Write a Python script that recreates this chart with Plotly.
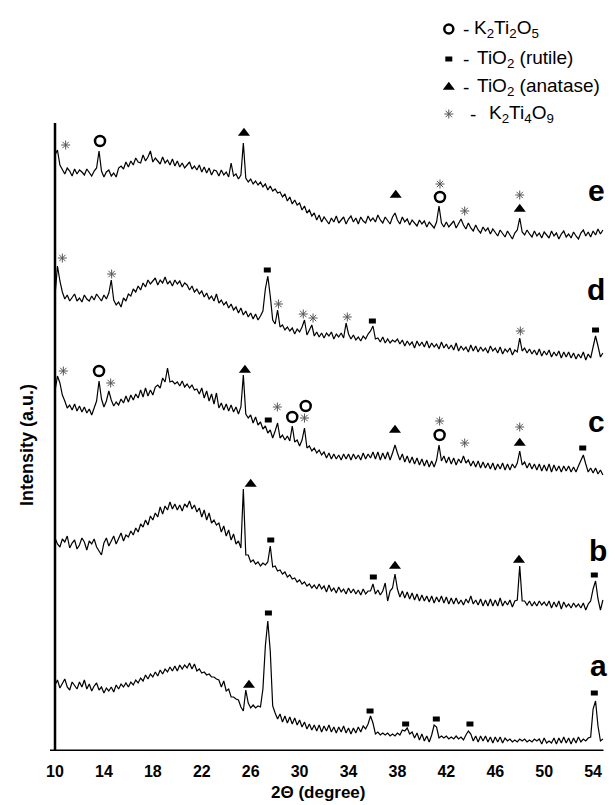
import plotly.graph_objects as go

# 2-theta scan grid (degrees), step 0.2
two_theta = [round(10 + 0.2 * i, 1) for i in range(225)]

# Intensities (a.u., offset-stacked as in the figure)
curve_e = [596, 601, 586, 581, 577, 583, 580, 575, 582, 577,
           581, 579, 576, 582, 578, 575, 580, 583, 600, 580,
           574, 579, 581, 575, 578, 574, 583, 585, 582, 589,
           584, 590, 586, 593, 589, 588, 596, 590, 594, 600,
           589, 593, 590, 587, 594, 588, 591, 586, 592, 585,
           590, 584, 588, 583, 586, 589, 582, 585, 581, 586,
           579, 584, 578, 583, 576, 581, 580, 575, 581, 576,
           579, 574, 588, 575, 577, 572, 576, 608, 573, 569,
           572, 567, 570, 566, 569, 564, 567, 561, 565, 560,
           562, 558, 559, 554, 557, 550, 554, 547, 551, 546,
           548, 541, 545, 538, 541, 535, 538, 531, 536, 529,
           534, 530, 527, 533, 529, 535, 528, 531, 534, 527,
           532, 535, 529, 533, 527, 534, 530, 528, 535, 530,
           533, 529, 536, 531, 528, 534, 530, 527, 534, 538,
           531, 527, 534, 529, 532, 526, 531, 528, 525, 531,
           527, 530, 524, 529, 526, 523, 529, 545, 528, 524,
           529, 524, 527, 530, 523, 528, 532, 526, 522, 528,
           523, 520, 526, 521, 518, 524, 520, 523, 517, 522,
           519, 515, 521, 517, 514, 520, 516, 512, 518, 521,
           533, 519, 516, 521, 517, 514, 520, 515, 518, 513,
           519, 516, 513, 520, 515, 518, 512, 517, 520, 514,
           517, 513, 519, 515, 512, 518, 521, 515, 519, 514,
           520, 516, 522, 517, 521]

curve_d = [455, 485, 470, 459, 452, 456, 450, 454, 457, 450,
           453, 449, 456, 452, 450, 455, 451, 457, 453, 450,
           456, 452, 458, 471, 451, 446, 449, 444, 453, 450,
           457, 455, 462, 459, 465, 461, 468, 464, 471, 467,
           470, 473, 466, 471, 468, 474, 467, 470, 465, 471,
           467, 470, 464, 468, 466, 461, 465, 459, 462, 457,
           460, 454, 458, 452, 455, 450, 457, 448, 451, 446,
           449, 443, 447, 441, 444, 438, 443, 436, 440, 434,
           438, 432, 437, 431, 435, 440, 462, 475, 455, 431,
           427, 441, 424, 426, 421, 424, 420, 423, 417, 422,
           419, 424, 431, 416, 421, 426, 415, 419, 414, 418,
           413, 418, 415, 419, 412, 417, 414, 418, 413, 428,
           417, 412, 416, 411, 414, 410, 415, 412, 417, 420,
           425, 412, 413, 409, 414, 408, 412, 408, 411, 409,
           412, 407, 411, 405, 410, 406, 409, 403, 410, 405,
           409, 404, 410, 403, 408, 404, 407, 402, 409, 403,
           407, 402, 406, 401, 408, 400, 405, 401, 404, 399,
           406, 400, 405, 399, 404, 400, 403, 398, 405, 400,
           403, 398, 404, 397, 402, 399, 403, 396, 401, 399,
           413, 400, 403, 398, 402, 397, 401, 396, 402, 395,
           400, 396, 401, 394, 399, 395, 400, 393, 399, 394,
           399, 393, 398, 392, 397, 393, 399, 391, 397, 393,
           404, 415, 405, 394, 398]

curve_c = [360, 375, 368, 356, 350, 343, 346, 341, 347, 340,
           345, 339, 344, 338, 342, 336, 343, 350, 370, 352,
           344, 350, 360, 351, 345, 349, 346, 352, 348, 355,
           349, 356, 351, 357, 353, 361, 354, 363, 355, 361,
           356, 364, 366, 363, 373, 369, 383, 369, 370, 367,
           369, 365, 370, 364, 367, 363, 366, 361, 362, 357,
           363, 353, 360, 350, 357, 347, 358, 343, 348, 341,
           347, 340, 346, 339, 344, 337, 344, 376, 337, 333,
           336, 328, 334, 326, 329, 322, 325, 318, 321, 313,
           320, 328, 313, 316, 311, 315, 310, 325, 309, 311,
           305, 311, 323, 303, 305, 300, 303, 298, 301, 296,
           299, 293, 298, 292, 297, 292, 296, 291, 297, 292,
           297, 291, 297, 292, 296, 291, 298, 292, 297, 293,
           299, 292, 299, 291, 298, 292, 299, 291, 298, 306,
           298, 291, 297, 289, 295, 288, 294, 287, 293, 286,
           292, 285, 291, 284, 290, 284, 291, 306, 290, 295,
           288, 294, 287, 293, 286, 292, 288, 295, 288, 291,
           285, 290, 284, 290, 283, 289, 283, 288, 282, 288,
           281, 287, 282, 288, 281, 287, 281, 287, 283, 288,
           300, 286, 289, 283, 288, 282, 287, 281, 287, 280,
           286, 280, 287, 279, 286, 280, 285, 279, 285, 280,
           285, 279, 284, 279, 285, 290, 296, 287, 279, 283,
           278, 283, 277, 281, 276]

curve_b = [213, 207, 204, 212, 209, 215, 203, 208, 211, 202,
           206, 213, 209, 201, 210, 207, 212, 204, 200, 196,
           208, 213, 205, 211, 215, 207, 213, 218, 210, 216,
           214, 220, 216, 223, 219, 227, 224, 231, 226, 235,
           231, 238, 234, 244, 237, 245, 241, 249, 242, 247,
           241, 246, 240, 247, 244, 250, 242, 246, 239, 243,
           234, 241, 231, 238, 228, 231, 226, 228, 219, 225,
           215, 221, 211, 217, 207, 210, 203, 262, 196, 196,
           189, 191, 187, 189, 185, 188, 186, 189, 205, 184,
           185, 180, 181, 177, 179, 174, 176, 172, 173, 169,
           171, 167, 169, 165, 167, 163, 166, 162, 167, 162,
           165, 159, 166, 160, 163, 158, 164, 159, 162, 157,
           163, 158, 162, 157, 161, 156, 162, 157, 160, 160,
           167, 157, 161, 156, 160, 168, 150, 160, 163, 177,
           162, 154, 160, 153, 159, 152, 158, 151, 157, 150,
           156, 150, 155, 149, 155, 148, 154, 149, 155, 148,
           154, 147, 153, 147, 153, 147, 151, 146, 152, 148,
           155, 147, 151, 146, 152, 145, 151, 145, 152, 145,
           151, 145, 153, 145, 150, 146, 151, 144, 150, 151,
           185, 150, 150, 146, 150, 145, 149, 145, 150, 146,
           149, 145, 150, 143, 149, 144, 150, 142, 149, 144,
           147, 143, 148, 144, 147, 143, 148, 141, 147, 150,
           162, 170, 152, 141, 151]

curve_a = [66, 71, 63, 68, 72, 64, 61, 69, 66, 62,
           69, 64, 71, 62, 67, 60, 65, 68, 61, 64,
           58, 63, 60, 64, 59, 66, 62, 67, 64, 68,
           64, 69, 66, 71, 68, 73, 70, 76, 72, 77,
           74, 79, 75, 81, 77, 82, 79, 84, 80, 85,
           80, 86, 82, 86, 83, 88, 82, 87, 80, 82,
           78, 79, 76, 77, 74, 74, 72, 71, 64, 70,
           60, 62, 54, 54, 52, 51, 44, 40, 61, 48,
           43, 46, 43, 45, 44, 62, 105, 130, 100, 45,
           38, 32, 37, 29, 35, 28, 34, 27, 33, 26,
           31, 24, 29, 22, 27, 21, 26, 20, 26, 19,
           25, 20, 26, 19, 24, 18, 24, 19, 25, 18,
           23, 17, 23, 18, 24, 19, 25, 22, 27, 35,
           28, 17, 19, 16, 18, 16, 18, 15, 17, 15,
           18, 16, 21, 20, 23, 17, 19, 13, 18, 11,
           17, 10, 15, 9, 16, 26, 24, 13, 15, 13,
           15, 12, 14, 12, 15, 12, 14, 11, 16, 20,
           17, 10, 15, 9, 15, 10, 15, 9, 14, 8,
           14, 9, 14, 8, 13, 10, 12, 9, 11, 9,
           12, 10, 12, 9, 11, 9, 12, 10, 12, 7,
           13, 8, 10, 8, 13, 7, 13, 8, 14, 8,
           13, 7, 13, 8, 14, 9, 12, 10, 13, 14,
           42, 50, 25, 10, 12]

curves = [("a", curve_a), ("b", curve_b), ("c", curve_c), ("d", curve_d), ("e", curve_e)]

# Phase markers (2-theta, label height)
k2ti2o5_x = [13.68, 41.48, 13.6, 29.4, 30.5, 41.45]
k2ti2o5_y = [610, 554, 380, 334, 345, 316]
rutile_x = [27.36, 35.95, 54.2, 27.44, 53.15, 27.64, 36.03, 54.1, 27.45, 35.76, 38.67, 41.18, 43.93, 54.1]
rutile_y = [481, 430, 421, 331, 303, 211, 174, 176, 138, 40, 27, 32, 27, 58]
anatase_x = [25.45, 37.86, 48.0, 25.53, 37.8, 48.0, 26.0, 37.8, 47.94, 25.86]
anatase_y = [618, 556, 542, 381, 321, 308, 267, 185, 191, 66]
k2ti4o9_x = [10.87, 41.48, 43.5, 48.0, 10.6, 14.63, 28.27, 30.3, 31.1, 33.9, 48.05,
             10.68, 14.55, 28.18, 30.4, 41.45, 43.5, 48.0]
k2ti4o9_y = [606, 567, 540, 556, 493, 477, 447, 437, 433, 434, 420,
             380, 368, 344, 333, 330, 308, 324]

sample_labels = ["e", "d", "c", "b", "a"]
sample_label_x = [54.3, 54.25, 54.3, 54.4, 54.45]
sample_label_y = [561, 462, 330, 201, 86]

x_ticks = [10, 14, 18, 22, 26, 30, 34, 38, 42, 46, 50, 54]

legend_text = ["K<sub>2</sub>Ti<sub>2</sub>O<sub>5</sub>",
               "TiO<sub>2</sub> (rutile)",
               "TiO<sub>2</sub> (anatase)",
               "K<sub>2</sub>Ti<sub>4</sub>O<sub>9</sub>"]

FONT = "Liberation Sans, Arial, sans-serif"
Y_TOP = 743       # full figure height above the x axis, in a.u. units
AXIS_TOP = 628    # top of the drawn intensity axis

fig = go.Figure()
for name, vals in curves:
    fig.add_trace(go.Scatter(x=two_theta, y=vals, mode="lines", name=name,
                             line=dict(color="black", width=1.2), showlegend=False,
                             hoverinfo="skip"))

def add_markers(xs, ys, symbol, size, color, lw):
    fig.add_trace(go.Scatter(x=xs, y=ys, mode="markers", showlegend=False,
                             cliponaxis=False, hoverinfo="skip",
                             marker=dict(symbol=symbol, size=size, color=color,
                                         line=dict(color=color, width=lw))))

add_markers(k2ti2o5_x, k2ti2o5_y, "circle-open", 10, "black", 2.5)
add_markers(rutile_x, rutile_y, "line-ew-open", 5, "black", 5)
add_markers(anatase_x, anatase_y, "triangle-up", 10.5, "black", 0)
add_markers(k2ti4o9_x, k2ti4o9_y, "asterisk-open", 7.5, "#555555", 1)

# legend (top right)
leg_x = 42.2
leg_y = [722, 692, 664, 637]
add_markers([leg_x], [leg_y[0]], "circle-open", 9, "black", 2.5)
add_markers([leg_x], [leg_y[1]], "line-ew-open", 5, "black", 5)
add_markers([leg_x], [leg_y[2]], "triangle-up", 10.5, "black", 0)
add_markers([leg_x], [leg_y[3]], "asterisk-open", 7.5, "#555555", 1)

dash_x = [43.6, 43.6, 43.6, 44.2]
text_x = [44.1, 44.35, 44.35, 45.3]
for i in range(4):
    fig.add_annotation(x=dash_x[i], y=leg_y[i], xref="x", yref="y", text="-",
                       showarrow=False, xanchor="center", yanchor="middle",
                       font=dict(family=FONT, size=19, color="black"))
    fig.add_annotation(x=text_x[i], y=leg_y[i], xref="x", yref="y", text=legend_text[i],
                       showarrow=False, xanchor="left", yanchor="middle",
                       font=dict(family=FONT, size=19, color="black"))

for lab, lx, ly in zip(sample_labels, sample_label_x, sample_label_y):
    fig.add_annotation(x=lx, y=ly, xref="x", yref="y", text=lab,
                       showarrow=False, xanchor="center", yanchor="middle",
                       font=dict(family=FONT, size=30, color="black", weight="bold"))

# axis titles
fig.add_annotation(x=31.5, y=-41 / Y_TOP, xref="x", yref="paper", text="2\u0398 (degree)",
                   showarrow=False, xanchor="center", yanchor="middle",
                   font=dict(family=FONT, size=17, color="black", weight="bold"))
fig.add_annotation(x=-0.041, y=(743 - 437) / Y_TOP, xref="paper", yref="paper",
                   text="Intensity (a.u.)",
                   showarrow=False, textangle=-90, xanchor="center", yanchor="middle",
                   font=dict(family=FONT, size=18, color="black", weight="bold"))

# axis lines
fig.add_shape(type="line", x0=9.59, x1=54.85, y0=0, y1=0, xref="x", yref="y",
              line=dict(color="black", width=3))
fig.add_shape(type="line", x0=10, x1=10, y0=0, y1=AXIS_TOP, xref="x", yref="y",
              line=dict(color="black", width=2.5))

fig.update_layout(
    width=616, height=805,
    margin=dict(l=42, r=15, t=0, b=62),
    paper_bgcolor="white", plot_bgcolor="white",
    xaxis=dict(range=[9.59, 55.3], tickvals=x_ticks, ticktext=[str(t) for t in x_ticks],
               tickfont=dict(family=FONT, size=16, color="black", weight="bold"),
               ticks="outside", ticklen=6, tickcolor="rgba(0,0,0,0)",
               showgrid=False, zeroline=False, showline=False),
    yaxis=dict(range=[0, Y_TOP], showticklabels=False, ticks="", showgrid=False,
               zeroline=False, showline=False),
)

fig.write_html("out.html")
